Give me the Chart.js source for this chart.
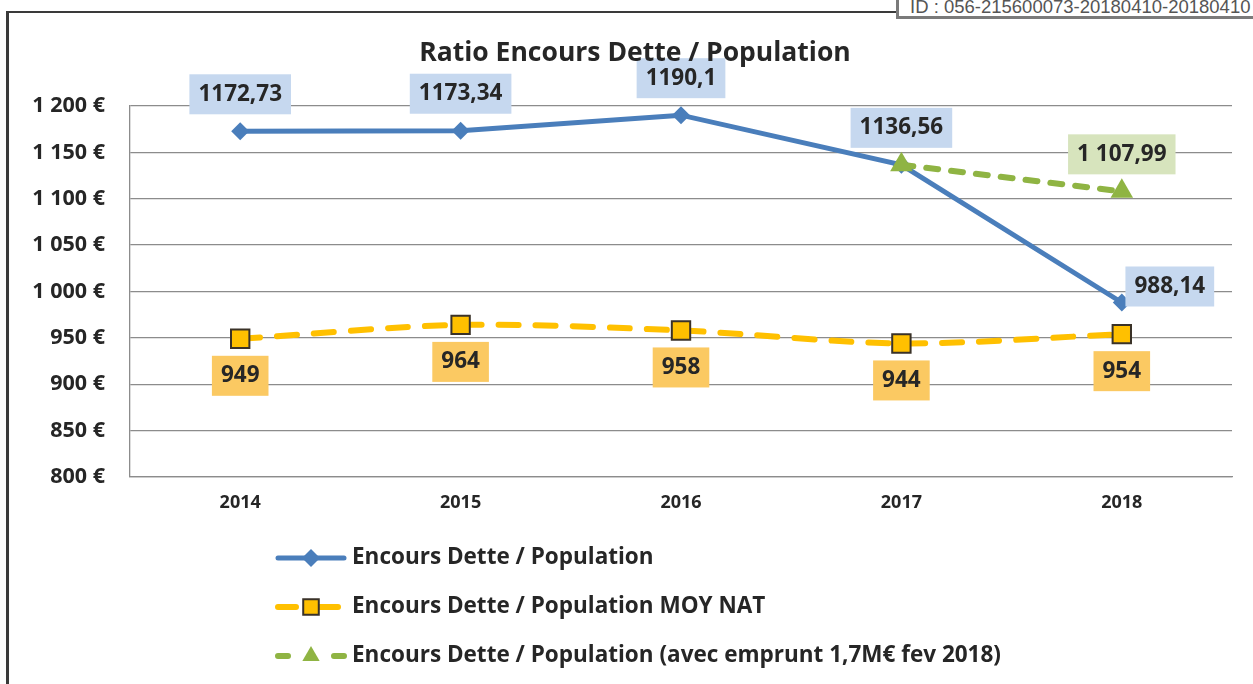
<!DOCTYPE html>
<html>
<head>
<meta charset="utf-8">
<script src="https://cdn.jsdelivr.net/npm/chart.js@4.4.1/dist/chart.umd.min.js"></script>
<style>
  html, body { margin: 0; padding: 0; background: #fff; }
  #wrap { position: relative; width: 1253px; height: 684px; overflow: hidden; }
  #frame { position: absolute; left: 6px; top: 11px; width: 1400px; height: 800px;
           border-left: 3px solid #3a3a3a; border-top: 2px solid #3a3a3a; }
  #idbox { position: absolute; left: 896px; top: -6px; width: 420px; height: 25px;
           border: 3px solid #7a7a7a; background: #fff; box-sizing: border-box;
           font-family: "Liberation Sans", Arial, sans-serif; font-size: 18.5px; color: #555;
           padding-left: 11px; line-height: 20px; padding-top: 0px; white-space: nowrap; }
  canvas { position: absolute; left: 0; top: 0; }
</style>
</head>
<body>
<div id="wrap">
  <div id="frame"></div>
  <div id="idbox">ID : 056-215600073-20180410-20180410</div>
  <canvas id="c" width="1253" height="684"></canvas>
</div>
<script>
// ---- data ----
const categories = ['2014', '2015', '2016', '2017', '2018'];
const seriesNames = [
  'Encours Dette / Population',
  'Encours Dette / Population MOY NAT',
  'Encours Dette / Population (avec emprunt 1,7M€ fev 2018)'
];
const encours = [1172.73, 1173.34, 1190.1, 1136.56, 988.14];
const moyNat = [949, 964, 958, 944, 954];
const avecEmprunt = [null, null, null, 1136.56, 1107.99];
const encoursLabels = ['1172,73', '1173,34', '1190,1', '1136,56', '988,14'];
const moyNatLabels = ['949', '964', '958', '944', '954'];
const avecEmpruntLabels = [null, null, null, null, '1 107,99'];
const yTickMin = 800, yTickMax = 1200, yTickStep = 50;
const chartTitle = 'Ratio Encours Dette / Population';

const FONT = '"Open Sans", Lato, sans-serif';
const TXT = '#262626';

function fmtEuro(v) {
  const s = v >= 1000 ? Math.floor(v / 1000) + ' ' + String(v % 1000).padStart(3, '0') : String(v);
  return s + ' €';
}

function drawMarker(ctx, style, x, y, r, fill, stroke, bw) {
  ctx.save();
  ctx.beginPath();
  if (style === 'rectRot') {
    ctx.moveTo(x, y - r); ctx.lineTo(x + r, y); ctx.lineTo(x, y + r); ctx.lineTo(x - r, y);
  } else if (style === 'rect') {
    const s = r * Math.SQRT1_2;
    ctx.rect(x - s, y - s, 2 * s, 2 * s);
  } else if (style === 'triangle') {
    ctx.moveTo(x, y - r);
    ctx.lineTo(x + r * 0.866, y + r * 0.5);
    ctx.lineTo(x - r * 0.866, y + r * 0.5);
  }
  ctx.closePath();
  ctx.fillStyle = fill; ctx.fill();
  if (bw > 0) { ctx.lineWidth = bw; ctx.strokeStyle = stroke; ctx.setLineDash([]); ctx.stroke(); }
  ctx.restore();
}

const labelPlugin = {
  id: 'boxLabels',
  afterDatasetsDraw(chart) {
    const ctx = chart.ctx;
    chart.data.datasets.forEach((ds, di) => {
      const meta = chart.getDatasetMeta(di);
      const labels = ds.boxLabels;
      if (!labels) return;
      meta.data.forEach((pt, i) => {
        const txt = labels[i];
        if (!txt || ds.data[i] == null) return;
        ctx.save();
        ctx.font = 'bold 22.5px ' + FONT;
        const tw = ctx.measureText(txt).width;
        const w = tw + 18, h = 40;
        const pos = ds.boxPos[i];
        let cx = pt.x, cy = pt.y;
        if (pos === 'above') cy -= 37;
        else if (pos === 'below') cy += 37;
        else if (pos === 'right') { cx += 48; cy -= 16; }
        ctx.fillStyle = ds.boxFill;
        ctx.fillRect(cx - w / 2, cy - h / 2, w, h);
        ctx.fillStyle = TXT;
        ctx.textAlign = 'center';
        ctx.textBaseline = 'middle';
        ctx.fillText(txt, cx, cy);
        ctx.restore();
      });
    });
  },
  afterDraw(chart) {
    const ctx = chart.ctx;
    // title
    ctx.save();
    ctx.font = 'bold 26.5px ' + FONT;
    ctx.fillStyle = TXT;
    ctx.textAlign = 'center';
    ctx.textBaseline = 'middle';
    ctx.fillText(chartTitle, 635, 53);
    ctx.restore();
    // legend
    chart.data.datasets.forEach((ds, di) => {
      const y = 558 + 49 * di;
      ctx.save();
      ctx.strokeStyle = ds.borderColor;
      ctx.lineWidth = ds.borderWidth;
      ctx.lineCap = 'round';
      ctx.setLineDash(ds.legendDash || []);
      ctx.beginPath();
      ctx.moveTo(278, y); ctx.lineTo(344, y);
      ctx.stroke();
      ctx.restore();
      drawMarker(ctx, ds.pointStyle, 311, y, ds.legendRadius, ds.pointBackgroundColor,
                 ds.pointBorderColor, ds.pointBorderWidth);
      ctx.save();
      ctx.font = 'bold 22.5px ' + FONT;
      ctx.fillStyle = TXT;
      ctx.textAlign = 'left';
      ctx.textBaseline = 'middle';
      ctx.fillText(seriesNames[di], 352, y);
      ctx.restore();
    });
  }
};

new Chart(document.getElementById('c'), {
  type: 'line',
  data: {
    labels: categories,
    datasets: [
      {
        label: seriesNames[0], data: encours, order: 1,
        borderColor: '#4a7ebb', borderWidth: 5, tension: 0,
        pointStyle: 'rectRot', pointRadius: 9, pointHoverRadius: 9,
        pointBackgroundColor: '#4a7ebb', pointBorderColor: '#4a7ebb', pointBorderWidth: 0,
        legendRadius: 9,
        boxLabels: encoursLabels, boxPos: ['above', 'above', 'above', 'above', 'right'],
        boxFill: '#c6d8ef'
      },
      {
        label: seriesNames[1], data: moyNat, order: 2,
        borderColor: '#ffc000', borderWidth: 6, tension: 0.3,
        borderDash: [20, 17], borderCapStyle: 'round', legendDash: [18, 24],
        pointStyle: 'rect', pointRadius: 13, pointHoverRadius: 13,
        pointBackgroundColor: '#ffc000', pointBorderColor: '#3a3228', pointBorderWidth: 2,
        legendRadius: 11,
        boxLabels: moyNatLabels, boxPos: ['below', 'below', 'below', 'below', 'below'],
        boxFill: '#fbc962'
      },
      {
        label: seriesNames[2], data: avecEmprunt, order: 0,
        borderColor: '#8fb443', borderWidth: 6, tension: 0,
        borderDash: [12, 13], borderCapStyle: 'round', legendDash: [10, 46],
        pointStyle: 'triangle', pointRadius: 13, pointHoverRadius: 13,
        pointBackgroundColor: '#8fb443', pointBorderColor: '#8fb443', pointBorderWidth: 0,
        legendRadius: 10,
        boxLabels: avecEmpruntLabels, boxPos: [null, null, null, null, 'above'],
        boxFill: '#d7e4bd'
      }
    ]
  },
  options: {
    responsive: false,
    animation: false,
    spanGaps: false,
    layout: { padding: { left: 0, top: 106, right: 21, bottom: 162 } },
    plugins: { legend: { display: false }, title: { display: false }, tooltip: { enabled: false } },
    scales: {
      x: {
        offset: true,
        afterFit: s => { s.height = 45; },
        grid: { display: false, drawTicks: false },
        border: { display: true, color: '#8c8c8c', width: 1.3 },
        ticks: { font: { family: FONT, size: 18, weight: 'bold' }, color: TXT, padding: 15 }
      },
      y: {
        min: yTickMin, max: yTickMax,
        afterFit: s => { s.width = 130; },
        grid: { color: '#8c8c8c', lineWidth: 1.3, drawTicks: false },
        border: { display: true, color: '#8c8c8c', width: 1.3 },
        ticks: { stepSize: yTickStep, callback: v => fmtEuro(v),
                 font: { family: FONT, size: 21.5, weight: 'bold' }, color: TXT, padding: 25 }
      }
    }
  },
  plugins: [labelPlugin]
});
</script>
</body>
</html>
